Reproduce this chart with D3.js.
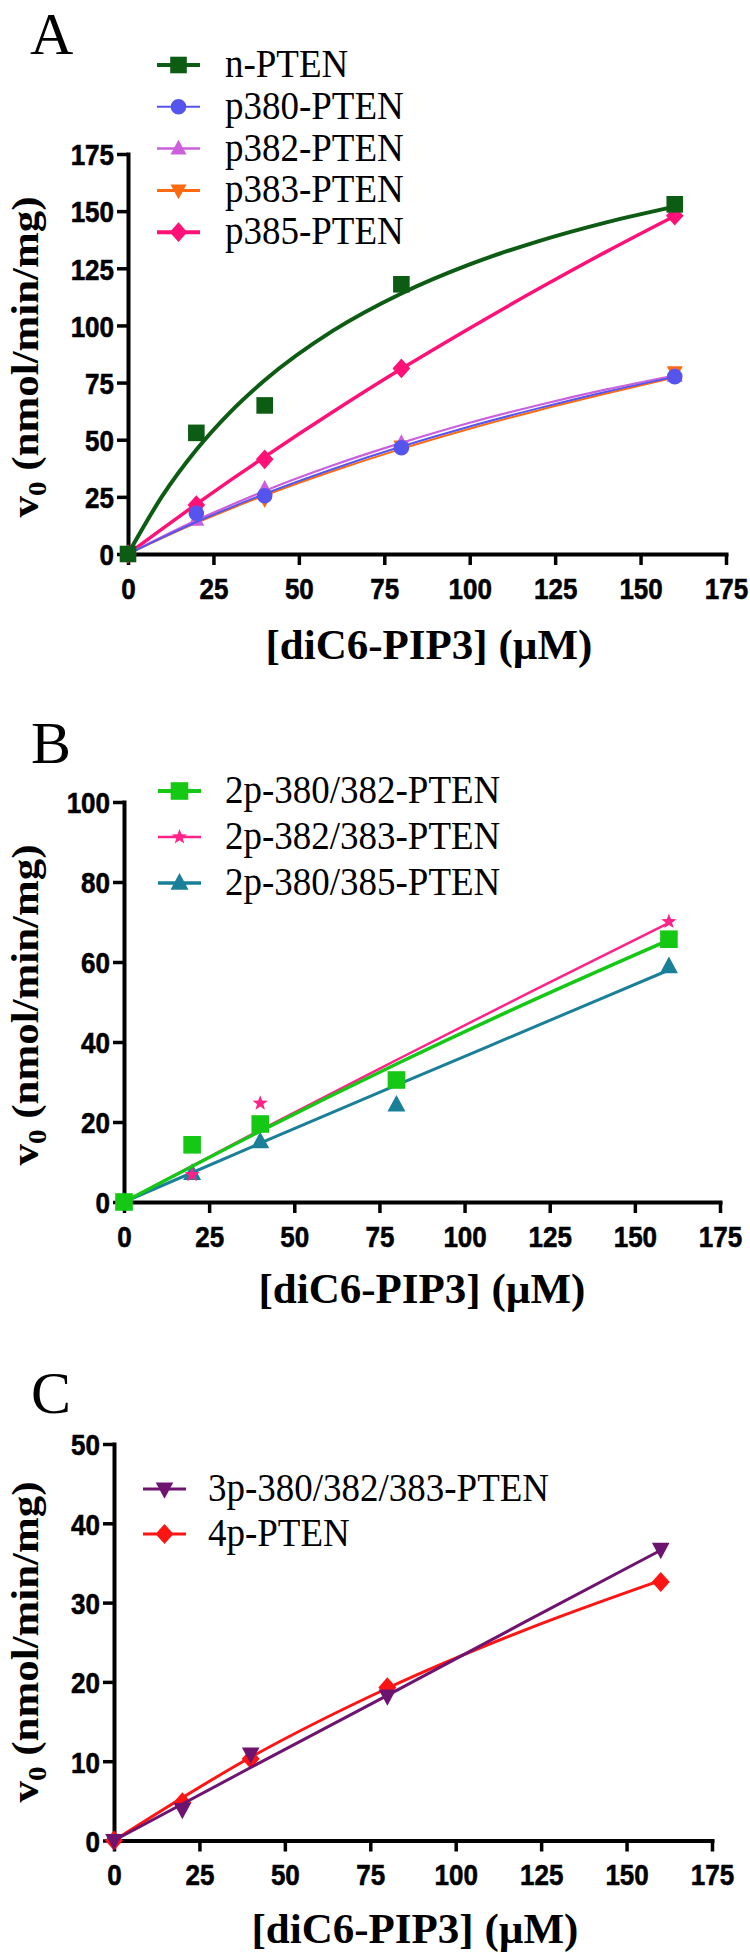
<!DOCTYPE html>
<html><head><meta charset="utf-8">
<script src="https://cdn.jsdelivr.net/npm/d3@7"></script>
<style>body{margin:0;background:#fff}</style>
</head><body><svg id="c" width="750" height="1953" xmlns="http://www.w3.org/2000/svg"></svg>
<script>
// ---------- data ----------
const concentrations = [0, 20, 40, 80, 160];
const fitConcA = [0, 10, 20, 30, 40, 60, 80, 100, 120, 140, 160];
const fitConcBC = [0, 40, 80, 120, 160];
const xTicks = [0, 25, 50, 75, 100, 125, 150, 175];

// Panel A
const namesA = ["n-PTEN", "p380-PTEN", "p382-PTEN", "p383-PTEN", "p385-PTEN"];
const nPTEN = [0, 53, 65, 118, 153];
const p380 = [0, 17.8, 25.5, 46.5, 77.6];
const p382 = [0, 15, 28.5, 48.5, 78];
const p383 = [0, 16, 24, 47, 79.5];
const p385 = [0, 21.4, 41.4, 81.2, 148];
const nPTENFit = [0, 25.3, 45.6, 62.2, 76, 97.7, 114, 126.7, 136.8, 145.1, 152];
const p380Fit = [0, 7.2, 14.0, 20.3, 26.3, 37.2, 47.0, 55.8, 63.7, 71.0, 77.5];
const p382Fit = [0, 7.6, 14.8, 21.3, 27.6, 38.8, 48.6, 57.4, 65.1, 72.0, 78.1];
const p383Fit = [0, 7.0, 13.6, 19.8, 25.6, 36.3, 46.0, 54.8, 62.8, 70.2, 77.3];
const p385Fit = [0, 11.0, 21.8, 32.3, 42.5, 62.2, 81.0, 98.8, 115.9, 132.3, 147.9];
const yTicksA = [0, 25, 50, 75, 100, 125, 150, 175];

// Panel B
const namesB = ["2p-380/382-PTEN", "2p-382/383-PTEN", "2p-380/385-PTEN"];
const p380_382 = [0, 14.3, 19.5, 30.5, 65.7];
const p382_383 = [0, 6.8, 24.7, 30.5, 70.1];
const p380_385 = [0, 7.2, 15.1, 24.3, 58.9];
const p380_382Fit = [0, 17.7, 34.5, 50.4, 65.5];
const p382_383Fit = [0, 18.0, 35.5, 52.8, 69.8];
const p380_385Fit = [0, 14.7, 29.2, 43.6, 58.0];
const yTicksB = [0, 20, 40, 60, 80, 100];

// Panel C
const namesC = ["3p-380/382/383-PTEN", "4p-PTEN"];
const p3 = [0, 3.9, 10.9, 18.2, 36.7];
const p4 = [0, 4.8, 10.3, 19.3, 32.6];
const p3Fit = [0, 9.2, 18.3, 27.5, 36.6];
const p4Fit = [0, 10.5, 19.2, 26.5, 32.8];
const yTicksC = [0, 10, 20, 30, 40, 50];

const xTitle = "[diC6-PIP3] (\u00B5M)";

// ---------- symbols ----------
const symSquare = {draw(c, r){ c.rect(-r, -r, 2*r, 2*r); }};
const symCircle = {draw(c, r){ c.moveTo(r, 0); c.arc(0, 0, r, 0, 2*Math.PI); }};
const symTriUp = {draw(c, r){ c.moveTo(0, -r*1.1); c.lineTo(r, r*0.75); c.lineTo(-r, r*0.75); c.closePath(); }};
const symTriDown = {draw(c, r){ c.moveTo(0, r*1.1); c.lineTo(r, -r*0.75); c.lineTo(-r, -r*0.75); c.closePath(); }};
const symDiamond = {draw(c, r){ c.moveTo(0, -r*1.12); c.lineTo(r, 0); c.lineTo(0, r*1.12); c.lineTo(-r, 0); c.closePath(); }};
const symStar = {draw(c, r){
  for (let i = 0; i < 10; i++) {
    const a = -Math.PI/2 + i*Math.PI/5, rr = i % 2 ? r*0.42 : r;
    const x = rr*Math.cos(a), y = rr*Math.sin(a);
    if (i === 0) c.moveTo(x, y); else c.lineTo(x, y);
  }
  c.closePath();
}};

// ---------- panel definitions ----------
const panels = [
  {
    letter: "A", letterPos: [30, 54],
    xRange: [128, 726], yRange: [554, 154], yMax: 175, yTicks: yTicksA,
    fitX: fitConcA, yTitleCy: 357, xTitleCx: 429, xTitleY: 659,
    legend: {x0: 157, x1: 200, tx: 225, rows: [65, 106.8, 148.6, 190.4, 232.2]},
    series: [
      {name: namesA[0], v: nPTEN, fit: nPTENFit, color: "#0d5c14", sym: symSquare, r: 8.3, lw: 4, llw: 4},
      {name: namesA[1], v: p380, fit: p380Fit, color: "#5555ee", sym: symCircle, r: 7.8, lw: 2, llw: 2},
      {name: namesA[2], v: p382, fit: p382Fit, color: "#cc5fdc", sym: symTriUp, r: 8, lw: 2.2, llw: 2.5},
      {name: namesA[3], v: p383, fit: p383Fit, color: "#ff6a10", sym: symTriDown, r: 8, lw: 2, llw: 3},
      {name: namesA[4], v: p385, fit: p385Fit, color: "#ff1177", sym: symDiamond, r: 8.8, lw: 3.5, llw: 4}
    ]
  },
  {
    letter: "B", letterPos: [31, 763],
    xRange: [124, 720], yRange: [1202, 802], yMax: 100, yTicks: yTicksB,
    fitX: fitConcBC, yTitleCy: 1005, xTitleCx: 422, xTitleY: 1303,
    legend: {x0: 158, x1: 201, tx: 225, rows: [791, 837, 883]},
    series: [
      {name: namesB[0], v: p380_382, fit: p380_382Fit, color: "#14c814", sym: symSquare, r: 8.8, lw: 3.5, llw: 4},
      {name: namesB[1], v: p382_383, fit: p382_383Fit, color: "#ff2288", sym: symStar, r: 8, lw: 2.5, llw: 2.5},
      {name: namesB[2], v: p380_385, fit: p380_385Fit, color: "#1a7f98", sym: symTriUp, r: 9, lw: 3, llw: 3.5}
    ]
  },
  {
    letter: "C", letterPos: [31, 1413],
    xRange: [114, 712], yRange: [1840.5, 1444], yMax: 50, yTicks: yTicksC,
    fitX: fitConcBC, yTitleCy: 1642, xTitleCx: 415, xTitleY: 1943,
    legend: {x0: 143, x1: 186, tx: 208, rows: [1489, 1534]},
    series: [
      {name: namesC[0], v: p3, fit: p3Fit, color: "#6e1470", sym: symTriDown, r: 8.8, lw: 3, llw: 3},
      {name: namesC[1], v: p4, fit: p4Fit, color: "#ff1414", sym: symDiamond, r: 9, lw: 3, llw: 3}
    ]
  }
];

const svg = d3.select("#c");
svg.append("rect").attr("width", 750).attr("height", 1953).attr("fill", "#fff");

const SERIF = "'Liberation Serif','Times New Roman',Times,serif";
const SANS = "'Liberation Sans',Arial,Helvetica,sans-serif";
const TICK_STRETCH = 1.16;

panels.forEach(p => {
  const g = svg.append("g");
  const x = d3.scaleLinear().domain([0, 175]).range(p.xRange);
  const y = d3.scaleLinear().domain([0, p.yMax]).range(p.yRange);

  // panel letter
  g.append("text").attr("x", p.letterPos[0]).attr("y", p.letterPos[1])
    .attr("font-family", SERIF).attr("font-size", 60).text(p.letter);

  // axes
  const xAxis = d3.axisBottom(x).tickValues(xTicks).tickSize(11).tickSizeOuter(0).tickFormat(d3.format("d"));
  const yAxis = d3.axisLeft(y).tickValues(p.yTicks).tickSize(11).tickSizeOuter(0).tickFormat(d3.format("d"));
  const gx = g.append("g").attr("transform", `translate(0,${p.yRange[0]})`).call(xAxis);
  const gy = g.append("g").attr("transform", `translate(${p.xRange[0]},0)`).call(yAxis);
  [gx, gy].forEach(ax => {
    ax.select(".domain").attr("stroke", "#000").attr("stroke-width", 4).attr("stroke-linecap", "square");
    ax.selectAll(".tick line").attr("stroke", "#000").attr("stroke-width", 3.5);
    ax.selectAll(".tick text").attr("font-family", SANS).attr("font-weight", "bold")
      .attr("font-size", 26).attr("fill", "#000").attr("stroke", "#000").attr("stroke-width", 0.5);
  });
  gx.selectAll(".tick text").attr("y", null).attr("dy", null)
    .attr("transform", `translate(0,44.5) scale(1,${TICK_STRETCH})`).attr("text-anchor", "middle");
  gy.selectAll(".tick text").attr("x", null).attr("dy", null)
    .attr("transform", `translate(-14,10.8) scale(1,${TICK_STRETCH})`).attr("text-anchor", "end");

  // axis titles
  const yt = g.append("text")
    .attr("transform", `translate(38,${p.yTitleCy}) rotate(-90) scale(1.13,1)`)
    .attr("text-anchor", "middle").attr("font-family", SERIF).attr("font-weight", "bold").attr("font-size", 38);
  yt.append("tspan").text("v");
  yt.append("tspan").attr("font-size", 26).attr("dy", 8).text("0");
  yt.append("tspan").attr("dy", -8).text(" (nmol/min/mg)");

  g.append("text").attr("x", p.xTitleCx).attr("y", p.xTitleY).attr("text-anchor", "middle")
    .attr("font-family", SERIF).attr("font-weight", "bold").attr("font-size", 43).text(xTitle);

  // data (first series drawn on top -> draw in reverse)
  const line = d3.line().x(d => x(d[0])).y(d => y(d[1])).curve(d3.curveMonotoneX);
  const sym = d3.symbol();
  p.series.slice().reverse().forEach(s => {
    const sg = g.append("g");
    sg.append("path").datum(p.fitX.map((c, i) => [c, s.fit[i]]))
      .attr("d", line).attr("fill", "none").attr("stroke", s.color).attr("stroke-width", s.lw);
    sg.selectAll("path.pt").data(concentrations.map((c, i) => [c, s.v[i]])).enter()
      .append("path").attr("class", "pt")
      .attr("transform", d => `translate(${x(d[0])},${y(d[1])})`)
      .attr("d", sym.type(s.sym).size(s.r)()).attr("fill", s.color);
  });

  // legend
  p.series.forEach((s, i) => {
    const ry = p.legend.rows[i];
    g.append("line").attr("x1", p.legend.x0).attr("x2", p.legend.x1).attr("y1", ry).attr("y2", ry)
      .attr("stroke", s.color).attr("stroke-width", s.llw);
    g.append("path").attr("transform", `translate(${(p.legend.x0 + p.legend.x1)/2},${ry})`)
      .attr("d", d3.symbol().type(s.sym).size(s.r)()).attr("fill", s.color);
    g.append("text").attr("transform", `translate(${p.legend.tx},${ry + 12}) scale(1,1.1)`)
      .attr("font-family", SERIF).attr("font-size", 37).attr("fill", "#000").text(s.name);
  });
});
</script></body></html>
